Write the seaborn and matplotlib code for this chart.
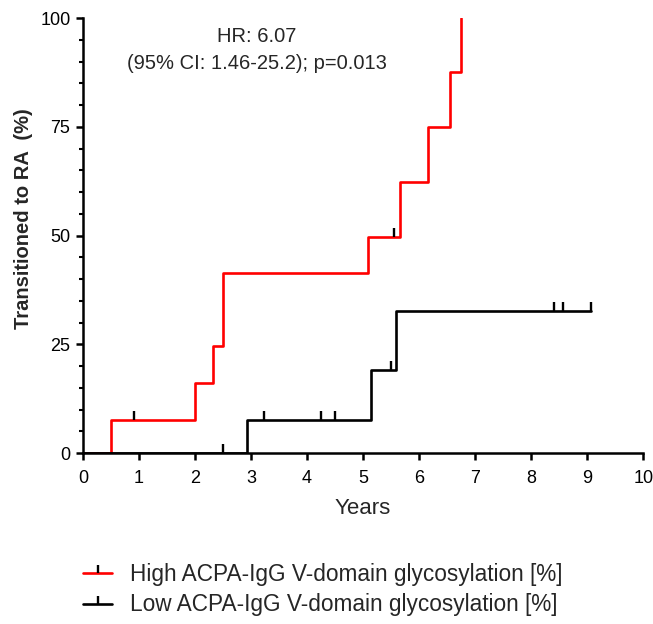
import numpy as np
import pandas as pd
import matplotlib
matplotlib.use("Agg")
import matplotlib.pyplot as plt
from matplotlib.lines import Line2D
import seaborn as sns

# step curves: time of each event (years) and cumulative % transitioned after it
high_times = [0.0, 0.5, 2.0, 2.33, 2.5, 5.08, 5.66, 6.16, 6.56, 6.75]
high_pct = [0.0, 7.7, 16.1, 24.5, 41.3, 49.7, 62.2, 74.9, 87.5, 100.0]
high_censor = [0.92, 5.56]

low_times = [0.0, 2.92, 5.15, 5.58, 9.07]
low_pct = [0.0, 7.7, 19.2, 32.7, 32.7]
low_censor = [2.5, 3.24, 4.25, 4.5, 5.5, 8.41, 8.56, 9.07]

groups = ["High ACPA-IgG V-domain glycosylation [%]",
          "Low ACPA-IgG V-domain glycosylation [%]"]
colors = ["#ff0000", "#000000"]


def level_at(times, pct, t):
    i = np.searchsorted(times, t, side="right") - 1
    return pct[i]


df = pd.concat([
    pd.DataFrame({"time": high_times, "pct": high_pct, "group": groups[0]}),
    pd.DataFrame({"time": low_times, "pct": low_pct, "group": groups[1]}),
])

sns.set_style("ticks")
plt.rcParams["font.family"] = ["Liberation Sans", "DejaVu Sans"]

fig = plt.figure(figsize=(6.53, 6.24), dpi=100)
ax = fig.add_axes([0.127, 0.274, 0.858, 0.697])

sns.lineplot(data=df, x="time", y="pct", hue="group", palette=colors,
             drawstyle="steps-post", estimator=None, sort=False,
             linewidth=1.9, legend=False, ax=ax)

# censor marks: short upward ticks
tick = [(0, 0), (0, 1)]
for times, pct, cens in [(high_times, high_pct, high_censor),
                         (low_times, low_pct, low_censor)]:
    cy = [level_at(times, pct, t) for t in cens]
    ax.plot(cens, cy, ls="none", marker=tick, ms=13, mew=1.7,
            color="black", zorder=4)

ax.set_xlim(0, 10)
ax.set_ylim(0, 100)
ax.set_xticks(range(0, 11))
ax.set_yticks([0, 25, 50, 75, 100])
ax.set_yticks(range(0, 101, 5), minor=True)
ax.tick_params(axis="both", which="major", direction="out", length=5,
               width=1.8, labelsize=13, color="black", labelcolor="black")
ax.tick_params(axis="x", which="major", pad=7)
ax.tick_params(axis="y", which="major", pad=4)
ax.tick_params(axis="y", which="minor", direction="out", length=3,
               width=1.5, color="black")
for side in ["left", "bottom"]:
    ax.spines[side].set_linewidth(1.8)
    ax.spines[side].set_color("black")
sns.despine(ax=ax)
ax.spines["left"].set_zorder(5)
ax.spines["bottom"].set_zorder(5)

ax.set_xlabel("Years", fontsize=16, labelpad=8)
ax.set_ylabel("Transitioned to RA  (%)", fontsize=14.5, fontweight="bold")
ax.yaxis.set_label_coords(-0.089, 0.54)

ax.text(3.1, 98.0, "HR: 6.07\n(95% CI: 1.46-25.2); p=0.013",
        ha="center", va="top", fontsize=14.5, linespacing=1.55)

handles = [Line2D([], [], color=c, lw=1.9, marker=tick, ms=12, mew=1.7,
                  markeredgecolor="black") for c in colors]
fig.legend(handles, groups, loc="upper left", bbox_to_anchor=(0.113, 0.113),
           frameon=False, fontsize=16.3, handlelength=1.3, handletextpad=0.8,
           labelspacing=0.35, borderaxespad=0)

fig.savefig("out.png", dpi=100)
